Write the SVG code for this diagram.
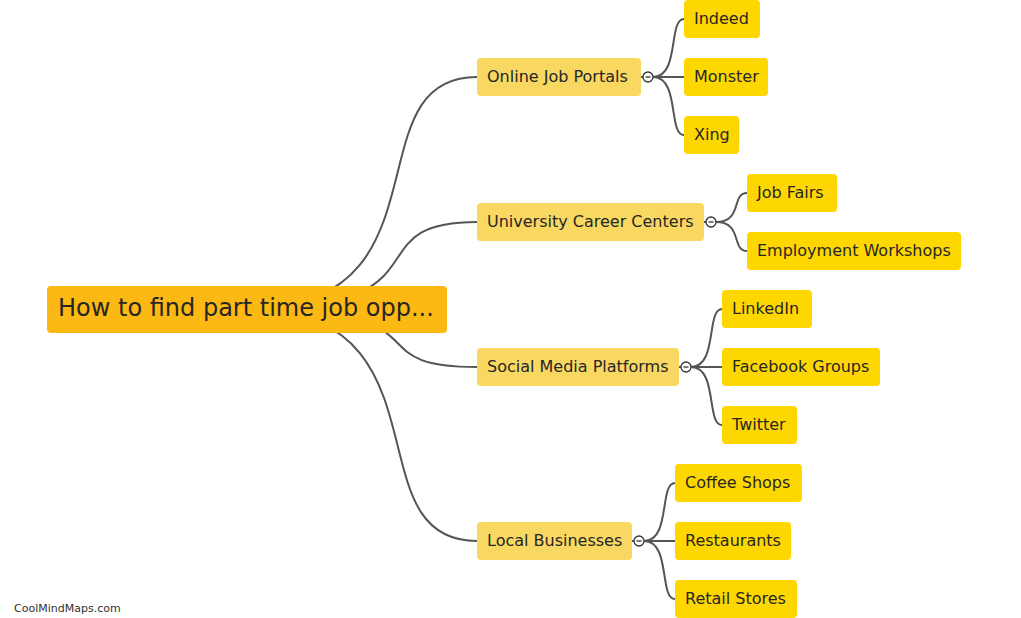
<svg xmlns="http://www.w3.org/2000/svg" width="1021" height="618" viewBox="0 0 1021 618">
<style>
text{font-family:"DejaVu Sans","Liberation Sans",sans-serif;fill:#262626}
.l1 rect{fill:#F9D862}
.l2 rect{fill:#FFD700}
.t{font-size:16px}
.c path,.c line{fill:none;stroke:#555;stroke-width:2}
.tog{fill:#fff;stroke:#333;stroke-width:1.3}
.tm{stroke:#333;stroke-width:1.3}
</style>
<rect width="1021" height="618" fill="#fff"/>
<g id="connectors" class="c">
<path d="M247 309C455 309 350 77 477 77"/>
<path d="M247 309C455 309 350 222 477 222"/>
<path d="M247 309C455 309 350 367 477 367"/>
<path d="M247 309C455 309 350 541 477 541"/>
<line x1="641" y1="77" x2="643" y2="77"/>
<line x1="704" y1="222" x2="706" y2="222"/>
<line x1="679" y1="367" x2="681" y2="367"/>
<line x1="632" y1="541" x2="634" y2="541"/>
<path d="M653 77C680 77 668 19 684 19"/>
<path d="M653 77L684 77"/>
<path d="M653 77C680 77 668 135 684 135"/>
<path d="M716 222C743 222 731 193 747 193"/>
<path d="M716 222C743 222 731 251 747 251"/>
<path d="M691 367C718 367 706 309 722 309"/>
<path d="M691 367L722 367"/>
<path d="M691 367C718 367 706 425 722 425"/>
<path d="M644 541C671 541 659 483 675 483"/>
<path d="M644 541L675 541"/>
<path d="M644 541C671 541 659 599 675 599"/>
</g>
<g id="root"><rect x="47" y="286" width="400" height="47" rx="4" fill="#FCB813"/><text x="58" y="316" font-size="24">How to find part time job opp...</text></g>
<g id="n1" class="l1"><rect x="477" y="58" width="164" height="38" rx="4"/><text class="t" x="487" y="82">Online Job Portals</text></g>
<g id="n2" class="l1"><rect x="477" y="203" width="227" height="38" rx="4"/><text class="t" x="487" y="227">University Career Centers</text></g>
<g id="n3" class="l1"><rect x="477" y="348" width="202" height="38" rx="4"/><text class="t" x="487" y="372">Social Media Platforms</text></g>
<g id="n4" class="l1"><rect x="477" y="522" width="155" height="38" rx="4"/><text class="t" x="487" y="546">Local Businesses</text></g>
<g id="toggles">
<circle class="tog" cx="648" cy="77" r="5"/><line class="tm" x1="645.5" y1="77" x2="650.5" y2="77"/>
<circle class="tog" cx="711" cy="222" r="5"/><line class="tm" x1="708.5" y1="222" x2="713.5" y2="222"/>
<circle class="tog" cx="686" cy="367" r="5"/><line class="tm" x1="683.5" y1="367" x2="688.5" y2="367"/>
<circle class="tog" cx="639" cy="541" r="5"/><line class="tm" x1="636.5" y1="541" x2="641.5" y2="541"/>
</g>
<g id="n1a" class="l2"><rect x="684" y="0" width="76" height="38" rx="4"/><text class="t" x="694" y="24">Indeed</text></g>
<g id="n1b" class="l2"><rect x="684" y="58" width="84" height="38" rx="4"/><text class="t" x="694" y="82">Monster</text></g>
<g id="n1c" class="l2"><rect x="684" y="116" width="55" height="38" rx="4"/><text class="t" x="694" y="140">Xing</text></g>
<g id="n2a" class="l2"><rect x="747" y="174" width="90" height="38" rx="4"/><text class="t" x="757" y="198">Job Fairs</text></g>
<g id="n2b" class="l2"><rect x="747" y="232" width="214" height="38" rx="4"/><text class="t" x="757" y="256">Employment Workshops</text></g>
<g id="n3a" class="l2"><rect x="722" y="290" width="90" height="38" rx="4"/><text class="t" x="732" y="314">LinkedIn</text></g>
<g id="n3b" class="l2"><rect x="722" y="348" width="158" height="38" rx="4"/><text class="t" x="732" y="372">Facebook Groups</text></g>
<g id="n3c" class="l2"><rect x="722" y="406" width="75" height="38" rx="4"/><text class="t" x="732" y="430">Twitter</text></g>
<g id="n4a" class="l2"><rect x="675" y="464" width="127" height="38" rx="4"/><text class="t" x="685" y="488">Coffee Shops</text></g>
<g id="n4b" class="l2"><rect x="675" y="522" width="116" height="38" rx="4"/><text class="t" x="685" y="546">Restaurants</text></g>
<g id="n4c" class="l2"><rect x="675" y="580" width="122" height="38" rx="4"/><text class="t" x="685" y="604">Retail Stores</text></g>
<text x="14" y="612" font-size="11" style="fill:#333">CoolMindMaps.com</text>
</svg>
